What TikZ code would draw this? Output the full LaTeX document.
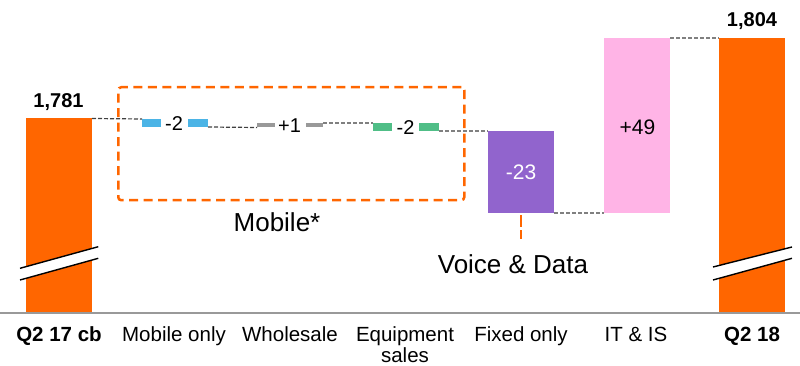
\documentclass[tikz,border=0pt]{standalone}
\usepackage{fontspec}
\setmainfont{Liberation Sans}
\definecolor{orangeM}{HTML}{FF6600}
\definecolor{blueM}{HTML}{4BB4E6}
\definecolor{greyM}{HTML}{999999}
\definecolor{greenM}{HTML}{50BE87}
\definecolor{purpleM}{HTML}{9164CD}
\definecolor{pinkM}{HTML}{FFB4E6}
\definecolor{linkdark}{HTML}{404040}
\definecolor{linkgrey}{HTML}{808080}
\begin{document}
\begin{tikzpicture}[x=1pt,y=-1pt,
  bar/.style={draw=none,inner sep=0pt,outer sep=0pt,anchor=north west},
  link/.style={line width=1.2pt,dash pattern=on 4pt off 2pt},
  catlabel/.style={anchor=base,inner sep=0pt,font=\fontsize{20.5}{24}\selectfont},
  vallabel/.style={anchor=base,inner sep=0pt,font=\fontsize{20}{24}\selectfont},
  totlabel/.style={anchor=base,inner sep=0pt,font=\fontsize{20}{24}\selectfont\bfseries},
  grouplabel/.style={anchor=base,inner sep=0pt,font=\fontsize{26}{30}\selectfont},
  groupframe/.style={draw=orangeM,line width=2.5pt,dash pattern=on 9pt off 5.5pt},
  breakband/.style={fill=white,draw=none},
  breakline/.style={line width=1.4pt,black}]
\path[use as bounding box] (0,0) rectangle (800,366);

% totals and deltas
\node[bar,fill=orangeM,minimum width=66pt,minimum height=194pt] (q17) at (26,118.5) {};
\node[bar,fill=orangeM,minimum width=66pt,minimum height=274.5pt] (q18) at (719,38) {};
\node[bar,fill=blueM,minimum width=19pt,minimum height=8pt] (b1) at (142,119) {};
\node[bar,fill=blueM,minimum width=20pt,minimum height=8pt] (b2) at (188,119) {};
\node[bar,fill=greyM,minimum width=18pt,minimum height=4.5pt] (g1) at (257,123) {};
\node[bar,fill=greyM,minimum width=17pt,minimum height=4.5pt] (g2) at (306,123) {};
\node[bar,fill=greenM,minimum width=19pt,minimum height=8pt] (gr1) at (373,123) {};
\node[bar,fill=greenM,minimum width=20pt,minimum height=8pt] (gr2) at (419,123) {};
\node[bar,fill=purpleM,minimum width=66pt,minimum height=82pt] (fixed) at (488,131) {};
\node[bar,fill=pinkM,minimum width=66pt,minimum height=175pt] (itis) at (604,38) {};

% step connectors
\draw[link,linkdark] (q17.north east) -- (b1.north west);
\draw[link,linkdark] (b2.south east) -- (g1.south west);
\draw[link,linkgrey] (g2.north east) -- (gr1.north west);
\draw[link,linkgrey] (gr2.south east) -- (fixed.north west);
\draw[link,linkgrey] (fixed.south east) -- (itis.south west);
\draw[link,linkgrey] (itis.north east) -- (q18.north west);

% axis
\coordinate (axl) at (0,313);
\coordinate (axr) at (800,313);
\draw[greyM,line width=1.5pt] (axl) -- (axr);

% axis breaks
\fill[breakband] (20,268.3) -- (98.3,246.7) -- (98.3,258.3) -- (20,280) -- cycle;
\draw[breakline] (20,268.3) -- (98.3,246.7);
\draw[breakline] (20,280) -- (98.3,258.3);
\fill[breakband] (713,267) -- (792,247) -- (792,258.3) -- (713,280) -- cycle;
\draw[breakline] (713,267) -- (792,247);
\draw[breakline] (713,280) -- (792,258.3);

% value labels
\node[totlabel] (v17) at (58.5,108) {1,781};
\node[totlabel] (v18) at (752,27) {1,804};
\node[vallabel] (vb) at (174,131) {-2};
\node[vallabel] (vg) at (289.5,132.5) {+1};
\node[vallabel] (vgr) at (405.5,135) {-2};
\node[vallabel,text=white,font=\fontsize{21}{24}\selectfont] (vf) at (521,179) {-23};
\node[vallabel,font=\fontsize{21}{24}\selectfont] (vi) at (637.5,134.5) {+49};

% mobile group
\node[groupframe,rounded corners=3pt,minimum width=346pt,minimum height=113pt,anchor=north west,inner sep=0pt] (mob) at (117,86) {};
\node[grouplabel] (moblab) at (277,231) {Mobile*};

% voice & data
\coordinate (vdend) at (521,238.5);
\draw[orangeM,line width=2.5pt,dash pattern=on 12pt off 3pt] ([yshift=-2pt]fixed.south) -- (vdend);
\node[grouplabel] (vdlab) at (513,273) {Voice \& Data};

% category labels
\node[catlabel,font=\fontsize{20.5}{24}\selectfont\bfseries] (c1) at (59,341.7) {Q2 17 cb};
\node[catlabel] (c2) at (174,341.7) {Mobile only};
\node[catlabel] (c3) at (290,341.7) {Wholesale};
\node[catlabel] (c4) at (405,341.7) {Equipment};
\node[catlabel] (c4b) at (405,362.5) {sales};
\node[catlabel] (c5) at (521,341.7) {Fixed only};
\node[catlabel] (c6) at (636,341.7) {IT \& IS};
\node[catlabel,font=\fontsize{20.5}{24}\selectfont\bfseries] (c7) at (752,341.7) {Q2 18};
\end{tikzpicture}
\end{document}
